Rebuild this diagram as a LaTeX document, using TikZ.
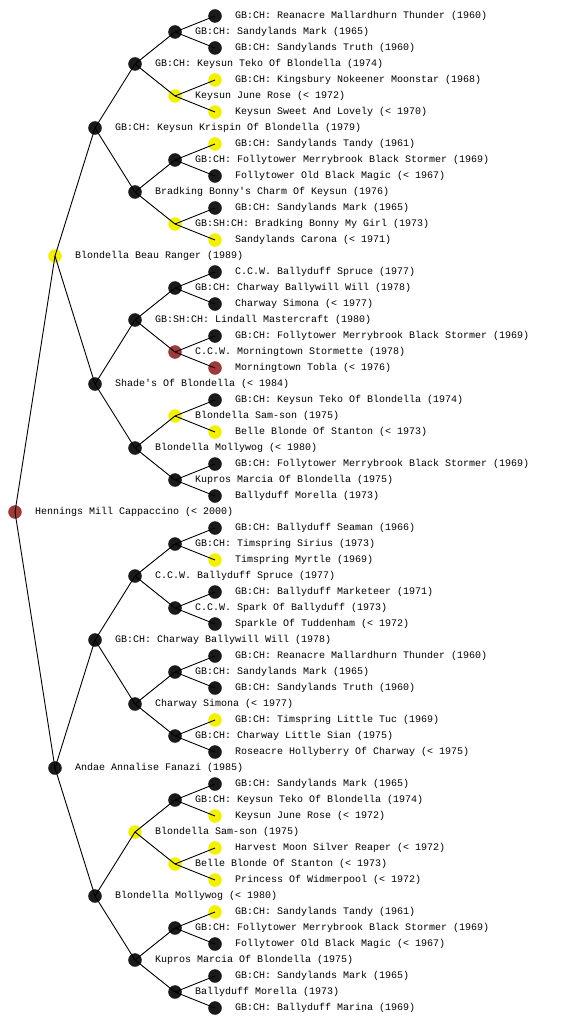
\documentclass[tikz,border=0pt]{standalone}
\usepackage{fontspec}
\setmonofont{Liberation Mono}
\definecolor{mkblack}{HTML}{1A1A1A}
\definecolor{mkyellow}{HTML}{F2F200}
\definecolor{mkred}{HTML}{A03A3A}
\tikzset{
  mark b/.style={circle,fill=mkblack,draw=mkblack,inner sep=0pt,minimum size=13pt},
  mark y/.style={circle,fill=mkyellow,draw=mkyellow,inner sep=0pt,minimum size=13pt},
  mark r/.style={circle,fill=mkred,draw=mkred,inner sep=0pt,minimum size=13pt},
  lbl/.style={anchor=west,inner sep=0pt,font=\ttfamily\fontsize{10}{12}\selectfont},
  edge/.style={draw=black,line width=0.9pt}
}
\begin{document}
\begin{tikzpicture}[x=1pt,y=-1pt]
\useasboundingbox (0,0) rectangle (560,1024);
\foreach \r/\c/\t in {
1/b/{GB:CH: Reanacre Mallardhurn Thunder (1960)},
2/b/{GB:CH: Sandylands Mark (1965)},
3/b/{GB:CH: Sandylands Truth (1960)},
4/b/{GB:CH: Keysun Teko Of Blondella (1974)},
5/y/{GB:CH: Kingsbury Nokeener Moonstar (1968)},
6/y/{Keysun June Rose (< 1972)},
7/y/{Keysun Sweet And Lovely (< 1970)},
8/b/{GB:CH: Keysun Krispin Of Blondella (1979)},
9/y/{GB:CH: Sandylands Tandy (1961)},
10/b/{GB:CH: Follytower Merrybrook Black Stormer (1969)},
11/b/{Follytower Old Black Magic (< 1967)},
12/b/{Bradking Bonny's Charm Of Keysun (1976)},
13/b/{GB:CH: Sandylands Mark (1965)},
14/y/{GB:SH:CH: Bradking Bonny My Girl (1973)},
15/y/{Sandylands Carona (< 1971)},
16/y/{Blondella Beau Ranger (1989)},
17/b/{C.C.W. Ballyduff Spruce (1977)},
18/b/{GB:CH: Charway Ballywill Will (1978)},
19/b/{Charway Simona (< 1977)},
20/b/{GB:SH:CH: Lindall Mastercraft (1980)},
21/b/{GB:CH: Follytower Merrybrook Black Stormer (1969)},
22/r/{C.C.W. Morningtown Stormette (1978)},
23/r/{Morningtown Tobla (< 1976)},
24/b/{Shade's Of Blondella (< 1984)},
25/b/{GB:CH: Keysun Teko Of Blondella (1974)},
26/y/{Blondella Sam-son (1975)},
27/y/{Belle Blonde Of Stanton (< 1973)},
28/b/{Blondella Mollywog (< 1980)},
29/b/{GB:CH: Follytower Merrybrook Black Stormer (1969)},
30/b/{Kupros Marcia Of Blondella (1975)},
31/b/{Ballyduff Morella (1973)},
32/r/{Hennings Mill Cappaccino (< 2000)},
33/b/{GB:CH: Ballyduff Seaman (1966)},
34/b/{GB:CH: Timspring Sirius (1973)},
35/y/{Timspring Myrtle (1969)},
36/b/{C.C.W. Ballyduff Spruce (1977)},
37/b/{GB:CH: Ballyduff Marketeer (1971)},
38/b/{C.C.W. Spark Of Ballyduff (1973)},
39/b/{Sparkle Of Tuddenham (< 1972)},
40/b/{GB:CH: Charway Ballywill Will (1978)},
41/b/{GB:CH: Reanacre Mallardhurn Thunder (1960)},
42/b/{GB:CH: Sandylands Mark (1965)},
43/b/{GB:CH: Sandylands Truth (1960)},
44/b/{Charway Simona (< 1977)},
45/y/{GB:CH: Timspring Little Tuc (1969)},
46/b/{GB:CH: Charway Little Sian (1975)},
47/b/{Roseacre Hollyberry Of Charway (< 1975)},
48/b/{Andae Annalise Fanazi (1985)},
49/b/{GB:CH: Sandylands Mark (1965)},
50/b/{GB:CH: Keysun Teko Of Blondella (1974)},
51/y/{Keysun June Rose (< 1972)},
52/y/{Blondella Sam-son (1975)},
53/y/{Harvest Moon Silver Reaper (< 1972)},
54/y/{Belle Blonde Of Stanton (< 1973)},
55/y/{Princess Of Widmerpool (< 1972)},
56/b/{Blondella Mollywog (< 1980)},
57/y/{GB:CH: Sandylands Tandy (1961)},
58/b/{GB:CH: Follytower Merrybrook Black Stormer (1969)},
59/b/{Follytower Old Black Magic (< 1967)},
60/b/{Kupros Marcia Of Blondella (1975)},
61/b/{GB:CH: Sandylands Mark (1965)},
62/b/{Ballyduff Morella (1973)},
63/b/{GB:CH: Ballyduff Marina (1969)}
}{
  % depth from row: count trailing factors of 2
  \pgfmathtruncatemacro{\lv}{mod(\r,32)==0 ? 0 : (mod(\r,16)==0 ? 1 : (mod(\r,8)==0 ? 2 : (mod(\r,4)==0 ? 3 : (mod(\r,2)==0 ? 4 : 5))))}
  \pgfmathsetmacro{\xx}{15+40*\lv}
  \pgfmathsetmacro{\yy}{16*\r}
  \node[mark \c] (n\r) at (\xx,\yy) {};
  \node[lbl] (t\r) at (\xx+20,\yy) {\t};
}
\foreach \s in {16,8,4,2,1}{
  \pgfmathtruncatemacro{\kmax}{16/\s-1}
  \foreach \k in {0,...,\kmax}{
    \pgfmathtruncatemacro{\p}{2*\s*(2*\k+1)}
    \pgfmathtruncatemacro{\ca}{\p-\s}
    \pgfmathtruncatemacro{\cb}{\p+\s}
    \draw[edge] (n\p.center) -- (n\ca.center);
    \draw[edge] (n\p.center) -- (n\cb.center);
  }
}
\end{tikzpicture}
\end{document}
